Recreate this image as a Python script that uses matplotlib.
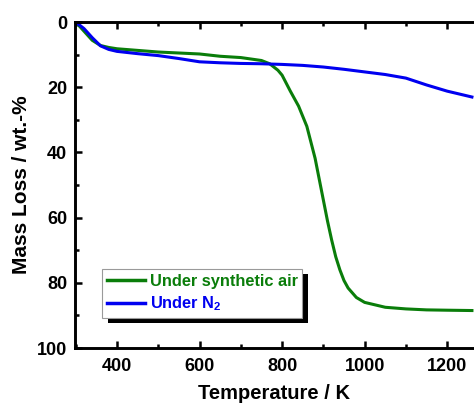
import matplotlib

matplotlib.use("Agg")
import matplotlib.pyplot as plt
from matplotlib.patches import Rectangle
from matplotlib.ticker import MultipleLocator

# synthetic air run
T_AIR = [300, 320, 340, 360, 380, 400, 450, 500, 550, 600, 650, 700, 750, 770, 790,
         800, 820, 840, 860, 880, 890, 900, 910, 920, 930, 940, 950, 960, 980, 1000,
         1050, 1100, 1150, 1200, 1260]
LOSS_AIR = [0, 2.8, 5.6, 7.2, 7.8, 8.2, 8.7, 9.2, 9.5, 9.8, 10.5, 10.9, 11.8, 12.8, 14.8,
            16.3, 21.2, 25.8, 32.0, 41.8, 48.2, 54.6, 61.0, 66.8, 72.0, 76.0, 79.3, 81.6,
            84.5, 86.0, 87.5, 88.0, 88.3, 88.4, 88.5]

# nitrogen run
T_N2 = [300, 320, 340, 360, 380, 400, 450, 500, 550, 600, 650, 700, 750, 800, 850, 900,
        950, 1000, 1050, 1100, 1150, 1200, 1260]
LOSS_N2 = [0, 2.0, 4.8, 7.3, 8.4, 9.0, 9.7, 10.3, 11.2, 12.2, 12.5, 12.7, 12.8, 13.0,
           13.3, 13.8, 14.5, 15.3, 16.1, 17.2, 19.3, 21.2, 23.0]

LABELS = ["Under synthetic air", r"Under N$_\mathbf{2}$"]
COLORS = ["#0a7d0a", "#0000f0"]

plt.rcParams.update({
    "font.family": ["Liberation Sans", "DejaVu Sans"],
    "font.weight": "bold",
    "mathtext.fontset": "custom",
    "mathtext.bf": "Liberation Sans:bold",
    "mathtext.rm": "Liberation Sans:bold",
    "mathtext.default": "bf",
})

fig = plt.figure(figsize=(4.74, 4.08), dpi=100)
ax = fig.add_axes([0.158, 0.147, 0.842, 0.799])

ax.plot(T_AIR, LOSS_AIR, color=COLORS[0], linewidth=2.2, label=LABELS[0])
ax.plot(T_N2, LOSS_N2, color=COLORS[1], linewidth=2.2, label=LABELS[1])

ax.set_xlim(298, 1265)
ax.set_ylim(100, 0)
ax.xaxis.set_major_locator(MultipleLocator(200))
ax.xaxis.set_minor_locator(MultipleLocator(100))
ax.yaxis.set_major_locator(MultipleLocator(20))
ax.yaxis.set_minor_locator(MultipleLocator(10))

for side in ("left", "bottom", "top"):
    ax.spines[side].set_linewidth(2.1)
ax.spines["right"].set_visible(False)

ax.tick_params(which="both", direction="in", top=True, right=False, width=1.8)
ax.tick_params(which="major", length=5, labelsize=13)
ax.tick_params(which="minor", length=3)
ax.tick_params(axis="x", which="major", pad=7.5)
ax.tick_params(axis="y", which="major", pad=5.5)
for lbl in ax.get_xticklabels() + ax.get_yticklabels():
    lbl.set_fontweight("bold")

ax.set_xlabel("Temperature / K", fontsize=14.5, fontweight="bold", labelpad=6.5)
ax.set_ylabel("Mass Loss / wt.-%", fontsize=15, fontweight="bold", labelpad=4)

leg = ax.legend(loc="upper left", bbox_to_anchor=(0.068, 0.242), fontsize=11.8,
                frameon=True, fancybox=False, edgecolor="#9a9a9a", framealpha=1,
                handlelength=2.3, handletextpad=0.3, borderpad=0.3, labelspacing=0.35,
                borderaxespad=0)
leg.get_frame().set_linewidth(0.8)
for txt, col in zip(leg.get_texts(), COLORS):
    txt.set_color(col)
    txt.set_fontweight("bold")
for line in leg.get_lines():
    line.set_linewidth(2.5)

# Origin-style offset black shadow under the legend box
fig.canvas.draw()
bb = leg.get_window_extent().transformed(ax.transAxes.inverted())
dx = 6 / ax.bbox.width
dy = 5 / ax.bbox.height
ax.add_patch(Rectangle((bb.x0 + dx, bb.y0 - dy), bb.width, bb.height, transform=ax.transAxes,
                       facecolor="black", edgecolor="none", zorder=4.9, clip_on=False))
leg.set_zorder(5)

fig.savefig("out.png", dpi=100)
